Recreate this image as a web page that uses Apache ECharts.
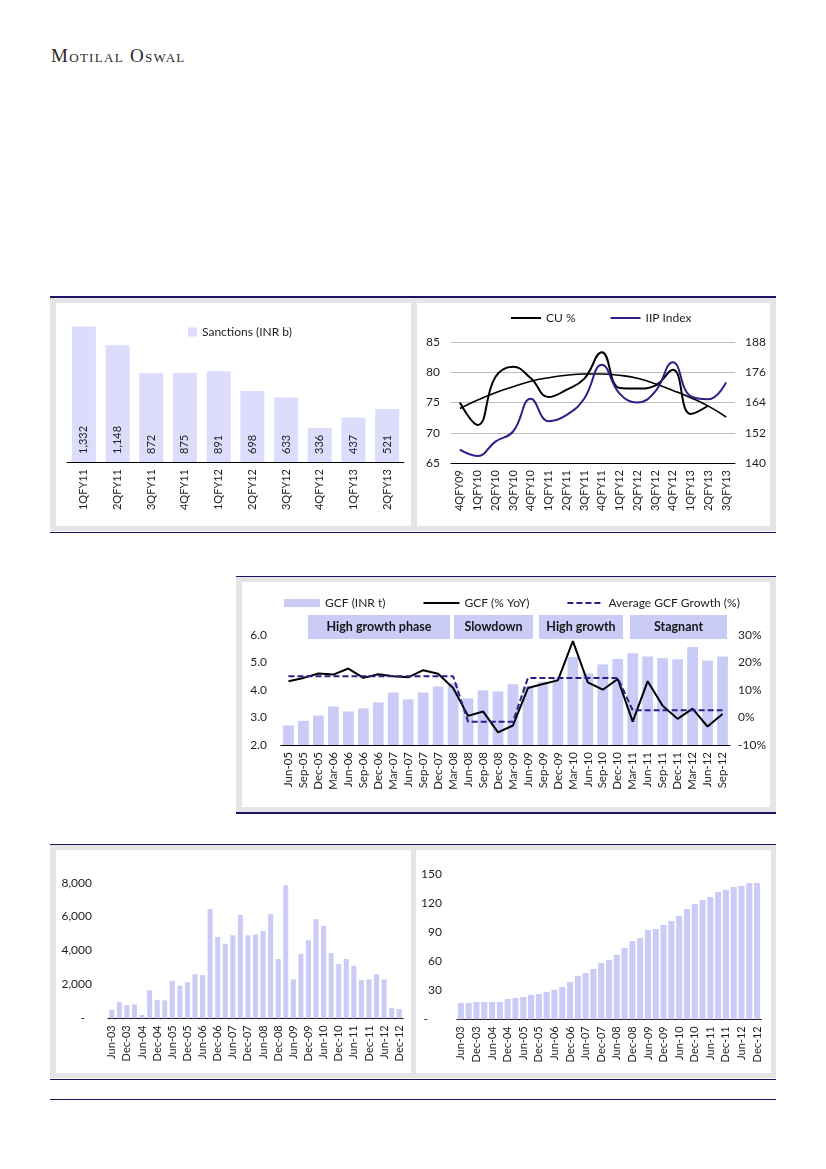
<!DOCTYPE html>
<html><head><meta charset="utf-8">
<script src="https://cdn.jsdelivr.net/npm/echarts@6/dist/echarts.min.js"></script>
<style>
html,body{margin:0;padding:0;background:#fff;width:826px;height:1169px;overflow:hidden;position:relative;}
.logo{position:absolute;left:51px;top:45px;font-family:"Liberation Serif","DejaVu Serif",serif;font-variant:small-caps;font-size:19px;letter-spacing:1.3px;color:#2a2a2a;}
.rule{position:absolute;height:1.6px;background:#1b1464;}
.frame{position:absolute;background:#e5e5e5;}
.chart{position:absolute;background:#fff;}
</style></head><body>
<div class="logo">Motilal Oswal</div>

<div class="rule" style="left:50px;top:296.4px;width:726px"></div>
<div class="frame" style="left:50px;top:298px;width:726px;height:233px"></div>
<div id="c1" class="chart" style="left:56px;top:303px;width:355px;height:223px"></div>
<div id="c2" class="chart" style="left:417px;top:303px;width:353px;height:223px"></div>
<div class="rule" style="left:50px;top:531.6px;width:726px"></div>

<div class="rule" style="left:236px;top:575.6px;width:540px"></div>
<div class="frame" style="left:236px;top:577px;width:540px;height:235px"></div>
<div id="c3" class="chart" style="left:242px;top:582px;width:528px;height:225px"></div>
<div class="rule" style="left:236px;top:812px;width:540px"></div>

<div class="rule" style="left:50px;top:843.8px;width:726px"></div>
<div class="frame" style="left:50px;top:845px;width:726px;height:233px"></div>
<div id="c4" class="chart" style="left:56px;top:850px;width:355px;height:223px"></div>
<div id="c5" class="chart" style="left:416px;top:850px;width:355px;height:223px"></div>
<div class="rule" style="left:50px;top:1078.6px;width:726px"></div>
<div class="rule" style="left:50px;top:1098.6px;width:726px"></div>

<script>
// ---------- data ----------
const sanctionCats = ['1QFY11','2QFY11','3QFY11','4QFY11','1QFY12','2QFY12','3QFY12','4QFY12','1QFY13','2QFY13'];
const sanctionVals = [1332,1148,872,875,891,698,633,336,437,521];

const cuCats = ['4QFY09','1QFY10','2QFY10','3QFY10','4QFY10','1QFY11','2QFY11','3QFY11','4QFY11','1QFY12','2QFY12','3QFY12','4QFY12','1QFY13','2QFY13','3QFY13'];
const cuVals = [75.0,71.3,79.2,80.9,79.0,75.9,77.1,78.9,83.3,77.4,77.3,77.8,80.4,73.1,74.5,null];
const cuTrend = [74.0,75.4,76.6,77.6,78.5,79.1,79.5,79.7,79.7,79.5,79.0,78.1,77.0,75.8,74.4,72.6];
const iipVals = [145.3,142.8,148.5,152.5,165.5,156.6,159.0,165.5,179.0,167.5,164.0,168.3,180.0,166.5,165.3,172.0];

const gcfCats = ['Jun-05','Sep-05','Dec-05','Mar-06','Jun-06','Sep-06','Dec-06','Mar-07','Jun-07','Sep-07','Dec-07','Mar-08','Jun-08','Sep-08','Dec-08','Mar-09','Jun-09','Sep-09','Dec-09','Mar-10','Jun-10','Sep-10','Dec-10','Mar-11','Jun-11','Sep-11','Dec-11','Mar-12','Jun-12','Sep-12'];
const gcfVals = [2.71,2.88,3.07,3.40,3.22,3.33,3.55,3.91,3.66,3.91,4.13,4.25,3.70,3.99,3.95,4.21,4.15,4.30,4.45,5.20,4.60,4.93,5.13,5.34,5.22,5.16,5.12,5.56,5.07,5.22];
const gcfYoY = [13.2,14.4,16.0,15.6,17.8,14.4,15.7,15.0,14.6,17.2,15.9,10.7,0.6,2.2,-5.4,-2.9,10.7,12.2,13.5,27.8,12.8,10.1,14.0,-1.5,13.2,4.3,-0.5,3.2,-3.3,1.3];
const gcfAvg = [15.0,15.0,15.0,15.0,15.0,15.0,15.0,15.0,15.0,15.0,15.0,15.0,-1.5,-1.5,-1.5,-1.5,14.4,14.4,14.4,14.4,14.4,14.4,14.4,2.6,2.6,2.6,2.6,2.6,2.6,2.6];
const phaseLabels = ['High growth phase','Slowdown','High growth','Stagnant'];

const qCats = ['Jun-03','Sep-03','Dec-03','Mar-04','Jun-04','Sep-04','Dec-04','Mar-05','Jun-05','Sep-05','Dec-05','Mar-06','Jun-06','Sep-06','Dec-06','Mar-07','Jun-07','Sep-07','Dec-07','Mar-08','Jun-08','Sep-08','Dec-08','Mar-09','Jun-09','Sep-09','Dec-09','Mar-10','Jun-10','Sep-10','Dec-10','Mar-11','Jun-11','Sep-11','Dec-11','Mar-12','Jun-12','Sep-12','Dec-12'];
const leftBarVals = [500,950,780,820,200,1650,1070,1060,2200,1920,2130,2600,2550,6450,4800,4400,4900,6100,4900,4950,5150,6150,3500,7850,2300,3800,4600,5850,5450,3850,3200,3500,3100,2250,2300,2600,2300,600,550];
const rightBarVals = [16.9,16.9,17.9,17.9,17.9,17.9,21.0,22.1,23.1,25.2,26.2,28.3,30.3,33.4,38.6,44.8,47.9,52.1,58.3,61.4,66.6,73.8,81.0,84.1,92.4,93.4,97.6,101.7,106.9,114.1,119.3,123.4,126.6,131.7,133.8,136.9,137.9,141.0,141.0];

// ---------- styles ----------
const FONT = 'Lato, "Liberation Sans", sans-serif';
const TXT = '#1e1e1e';
const BAR1 = '#dcdcfd';
const BAR2 = '#cbcbf8';
const NAVY = '#2e1f86';
const NOSYM = {opacity:0};

function mk(id, opt){
  const c = echarts.init(document.getElementById(id), null, {renderer:'canvas'});
  opt.animation = false;
  opt.textStyle = {fontFamily: FONT, color: TXT};
  c.setOption(opt);
}
const catAxis = (data, extra) => Object.assign({
  type:'category', data,
  axisLine:{onZero:false, lineStyle:{color:'#000',width:1}},
  axisTick:{show:false},
  axisLabel:{rotate:90, fontSize:11, color:TXT, margin:7, interval:0, fontFamily:FONT}
}, extra||{});

// Chart 1: Sanctions
mk('c1', {
  legend:{left:132, top:23, padding:0, icon:'rect', itemWidth:9, itemHeight:9,
    textStyle:{fontSize:12, color:TXT, fontFamily:FONT}, data:['Sanctions (INR b)']},
  grid:{left:11, right:7, top:16.5, bottom:64},
  xAxis: catAxis(sanctionCats),
  yAxis:{type:'value', min:0, max:1400, show:false},
  series:[{name:'Sanctions (INR b)', type:'bar', data:sanctionVals, barWidth:24,
    itemStyle:{color:BAR1},
    label:{show:true, position:'insideBottom', rotate:90, align:'left', verticalAlign:'middle',
      distance:8, fontSize:11, color:TXT, fontFamily:FONT,
      formatter:p=>Number(p.value).toLocaleString('en-US')}}]
});

// Chart 2: CU % and IIP
mk('c2', {
  legend:{left:93, top:9, padding:0, itemWidth:30, itemHeight:10, itemGap:34,
    textStyle:{fontSize:12, color:TXT, fontFamily:FONT},
    data:[{name:'CU %', itemStyle:NOSYM},{name:'IIP Index', itemStyle:NOSYM}]},
  grid:{left:34, right:35, top:39, bottom:63},
  xAxis: catAxis(cuCats),
  yAxis:[
    {type:'value', min:65, max:85, interval:5, axisLine:{show:false}, axisTick:{show:false},
      axisLabel:{fontSize:12, color:TXT, margin:11, fontFamily:FONT},
      splitLine:{lineStyle:{color:'#bdbdbd', width:1}}},
    {type:'value', min:140, max:188, interval:12, axisLine:{show:false}, axisTick:{show:false},
      axisLabel:{fontSize:12, color:TXT, margin:10, fontFamily:FONT}, splitLine:{show:false}}
  ],
  series:[
    {name:'CU trend', type:'line', data:cuTrend, smooth:true, symbol:'none', z:3,
      lineStyle:{color:'#000', width:1.6}},
    {name:'CU %', type:'line', data:cuVals, smooth:0.45, symbol:'none', z:4,
      itemStyle:{color:'#000'}, lineStyle:{color:'#000', width:2}},
    {name:'IIP Index', type:'line', yAxisIndex:1, data:iipVals, smooth:0.45, symbol:'none', z:4,
      itemStyle:{color:NAVY}, lineStyle:{color:NAVY, width:2}}
  ]
});

// Chart 3: GCF
const boxes = [[66,142],[212,79],[297,84],[388,97]];
mk('c3', {
  legend:{left:42, top:15, padding:0, itemWidth:36, itemHeight:8, itemGap:37,
    textStyle:{fontSize:12, color:TXT, fontFamily:FONT},
    data:[{name:'GCF (INR t)', icon:'rect'},{name:'GCF (% YoY)', itemStyle:NOSYM},{name:'Average GCF Growth (%)', itemStyle:NOSYM}]},
  grid:{left:39, right:40, top:53, bottom:62},
  xAxis: catAxis(gcfCats, {axisLabel:{rotate:90, fontSize:11.5, color:TXT, margin:7, interval:0, fontFamily:FONT}}),
  yAxis:[
    {type:'value', min:2, max:6, interval:1, axisLine:{show:false}, axisTick:{show:false},
      axisLabel:{fontSize:12, color:TXT, margin:14, fontFamily:FONT, formatter:v=>v.toFixed(1)}, splitLine:{show:false}},
    {type:'value', min:-10, max:30, interval:10, axisLine:{show:false}, axisTick:{show:false},
      axisLabel:{fontSize:12, color:TXT, margin:8, fontFamily:FONT, formatter:v=>v+'%'}, splitLine:{show:false}}
  ],
  graphic: boxes.map((b,i)=>({type:'group', left:b[0], top:33, children:[
    {type:'rect', shape:{x:0,y:0,width:b[1],height:24}, style:{fill:BAR2}},
    {type:'text', x:b[1]/2, y:12, style:{text:phaseLabels[i], align:'center', verticalAlign:'middle',
      font:'bold 12.5px '+FONT, fill:'#151515'}}
  ]})),
  series:[
    {name:'GCF (INR t)', type:'bar', data:gcfVals, barCategoryGap:'28%', itemStyle:{color:BAR2}},
    {name:'GCF (% YoY)', type:'line', yAxisIndex:1, data:gcfYoY, symbol:'none',
      itemStyle:{color:'#000'}, lineStyle:{color:'#000', width:2}},
    {name:'Average GCF Growth (%)', type:'line', yAxisIndex:1, data:gcfAvg, symbol:'none',
      itemStyle:{color:NAVY}, lineStyle:{color:NAVY, width:2, type:[6,3]}}
  ]
});

// Chart 4
mk('c4', {
  grid:{left:52, right:8, top:32.7, bottom:54.7},
  xAxis: catAxis(qCats, {axisLabel:{rotate:90, fontSize:11, color:TXT, margin:7, interval:1, fontFamily:FONT}}),
  yAxis:{type:'value', min:0, max:8000, interval:2000, axisLine:{show:false}, axisTick:{show:false},
    splitLine:{show:false},
    axisLabel:{fontSize:12, color:TXT, margin:16, fontFamily:FONT,
      formatter:v=> v===0 ? '-\u2007' : v.toLocaleString('en-US')}},
  series:[{type:'bar', data:leftBarVals, barCategoryGap:'34%', itemStyle:{color:BAR2}}]
});

// Chart 5
mk('c5', {
  grid:{left:41, right:10, top:24.3, bottom:53.7},
  xAxis: catAxis(qCats, {axisLabel:{rotate:90, fontSize:11, color:TXT, margin:7, interval:1, fontFamily:FONT}}),
  yAxis:{type:'value', min:0, max:150, interval:30, axisLine:{show:false}, axisTick:{show:false},
    splitLine:{show:false},
    axisLabel:{fontSize:12, color:TXT, margin:15, fontFamily:FONT,
      formatter:v=> v===0 ? '-\u2007\u2007' : String(v)}},
  series:[{type:'bar', data:rightBarVals, barCategoryGap:'22%', itemStyle:{color:BAR2}}]
});
</script>
</body></html>
